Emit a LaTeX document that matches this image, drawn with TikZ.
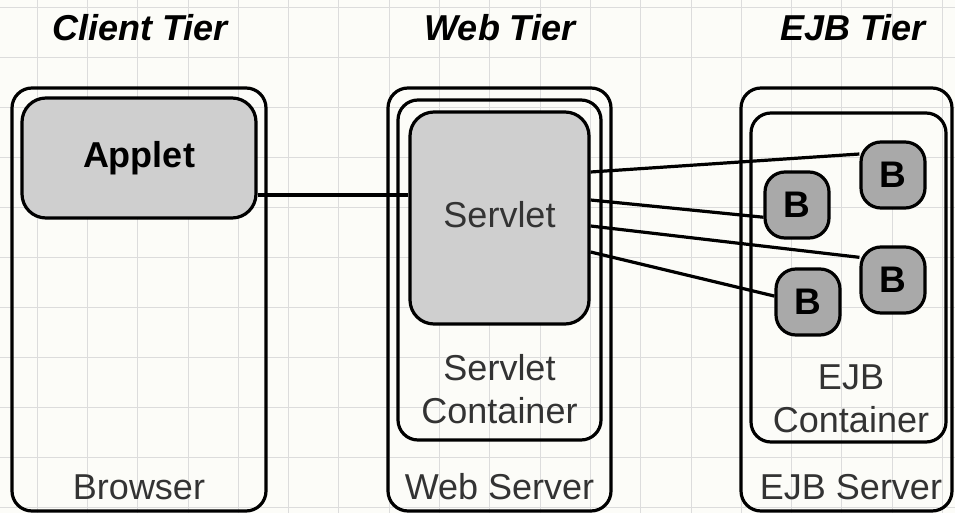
\documentclass[tikz,border=0pt]{standalone}
\usepackage{fontspec}
\setmainfont{Liberation Sans}
\usetikzlibrary{positioning}

\definecolor{paper}{HTML}{FCFCF8}
\definecolor{gridline}{HTML}{DCDCDC}
\definecolor{compfill}{HTML}{CFCFCF}
\definecolor{beanfill}{HTML}{A9A9A9}
\definecolor{labeltext}{HTML}{333333}

\tikzset{
    tierbox/.style={draw, line width=3.2pt, rounded corners=20pt, inner sep=0pt},
    compbox/.style={tierbox, fill=compfill, rounded corners=24pt},
    beanbox/.style={draw, line width=3.2pt, rounded corners=20pt, fill=beanfill,
        minimum width=64pt, minimum height=66pt, inner sep=0pt,
        font=\fontsize{37}{37}\selectfont\bfseries},
    tiertitle/.style={font=\fontsize{36}{36}\selectfont\bfseries\itshape},
    boxlabel/.style={text=labeltext, align=center, font=\fontsize{36}{43}\selectfont},
    wire/.style={line width=3.2pt}
}

\begin{document}
\begin{tikzpicture}[x=1pt, y=-1pt]

% Background and grid
\useasboundingbox (0,0) rectangle (955,513);
\fill[paper] (0,0) rectangle (955,513);
\foreach \x in {0,...,18} {
    \draw[gridline, line width=0.8pt] (37+50.3*\x, 0) -- (37+50.3*\x, 513);
}
\foreach \y in {0,...,10} {
    \draw[gridline, line width=0.8pt] (0, 7+50*\y) -- (955, 7+50*\y);
}

% Tier titles
\node[tiertitle] (clienttier) at (140, 28) {Client Tier};
\node[tiertitle] (webtier) at (500, 28) {Web Tier};
\node[tiertitle] (ejbtier) at (853, 28) {EJB Tier};

% Client tier
\node[tierbox, minimum width=254pt, minimum height=423pt] (browser) at (139, 299.5) {};
\node[compbox, minimum width=234pt, minimum height=120pt,
      font=\fontsize{36}{36}\selectfont\bfseries] (applet) at (139, 158) {Applet};
\node[boxlabel] (browserlabel) at (139, 487) {Browser};

% Web tier
\node[tierbox, minimum width=223pt, minimum height=423pt] (webserver) at (499.5, 299.5) {};
\node[tierbox, minimum width=203pt, minimum height=340pt] (servletcont) at (499.5, 270) {};
\node[compbox, minimum width=179pt, minimum height=212pt] (servlet) at (499.5, 218) {};
\node[boxlabel] (servletlabel) at (499.5, 215) {Servlet};
\node[boxlabel] (servletcontlabel) at (499.5, 389) {Servlet\\Container};
\node[boxlabel] (webserverlabel) at (499.5, 487) {Web Server};

% EJB tier
\node[tierbox, minimum width=211pt, minimum height=423pt] (ejbserver) at (846.5, 299.5) {};
\node[tierbox, minimum width=195pt, minimum height=329pt] (ejbcont) at (848.5, 277.5) {};
\node[boxlabel] (ejbcontlabel) at (851, 399) {EJB\\Container};
\node[boxlabel] (ejbserverlabel) at (851, 487) {EJB Server};

% Beans
\node[beanbox] (bean1) at (893, 175) {B};
\node[beanbox] (bean2) at (797, 205) {B};
\node[beanbox] (bean3) at (893, 280) {B};
\node[beanbox] (bean4) at (808, 302) {B};

% Connections
\draw[wire] ([yshift=-37pt]applet.east) -- ([yshift=23pt]servlet.west);
\draw[wire] ([yshift=46pt]servlet.east) -- (bean1.148);
\draw[wire] ([yshift=18pt]servlet.east) -- (bean2.200);
\draw[wire] ([yshift=-8pt]servlet.east) -- (bean3.146);
\draw[wire] ([yshift=-34pt]servlet.east) -- (bean4.170);

\end{tikzpicture}
\end{document}
